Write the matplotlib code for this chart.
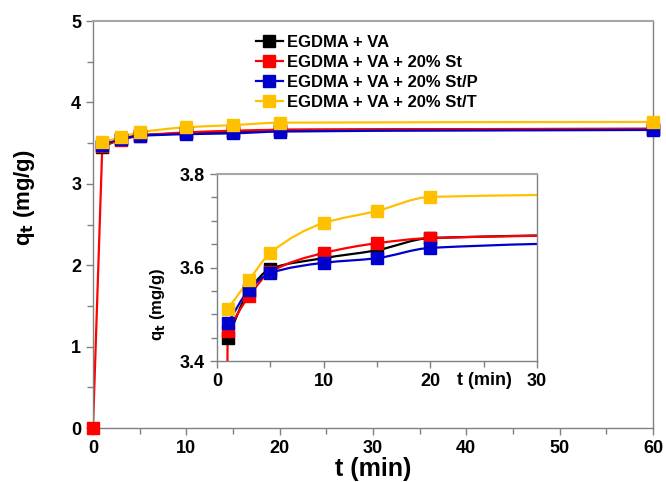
import numpy as np
import matplotlib
matplotlib.use("Agg")
import matplotlib.pyplot as plt
from matplotlib.path import Path
from matplotlib.patches import PathPatch
from matplotlib.lines import Line2D

plt.rcParams['font.family'] = ['Liberation Sans', 'DejaVu Sans']
plt.rcParams['font.weight'] = 'bold'

# data
t = [1, 3, 5, 10, 15, 20, 60]
t_st = [0, 1, 3, 5, 10, 15, 20, 60]   # only the St series starts at the origin
q_va = [3.450, 3.550, 3.597, 3.620, 3.637, 3.663, 3.675]
q_st = [0, 3.465, 3.539, 3.590, 3.631, 3.652, 3.663, 3.675]
q_stp = [3.481, 3.552, 3.588, 3.610, 3.620, 3.642, 3.662]
q_stt = [3.511, 3.573, 3.631, 3.695, 3.721, 3.751, 3.760]

labels = ["EGDMA + VA", "EGDMA + VA + 20% St", "EGDMA + VA + 20% St/P", "EGDMA + VA + 20% St/T"]
colors = ["#000000", "#FF0000", "#0000CC", "#FFC000"]
series = [(t, q_va), (t_st, q_st), (t, q_stp), (t, q_stt)]

GRAY = "#808080"


# smooth line through the points (monotone cubic); a jump from the origin is drawn straight
def smooth_path(x, y):
    x = np.asarray(x, float)
    y = np.asarray(y, float)
    verts = [(x[0], y[0])]
    codes = [Path.MOVETO]
    if x[0] == 0:
        verts.append((x[1], y[1]))
        codes.append(Path.LINETO)
        x, y = x[1:], y[1:]
    n = len(x)
    d = np.diff(y) / np.diff(x)
    m = np.zeros(n)
    m[0], m[-1] = d[0], d[-1]
    for i in range(1, n - 1):
        if d[i - 1] * d[i] <= 0:
            m[i] = 0
        else:
            w1 = 2 * (x[i + 1] - x[i]) + (x[i] - x[i - 1])
            w2 = (x[i + 1] - x[i]) + 2 * (x[i] - x[i - 1])
            m[i] = (w1 + w2) / (w1 / d[i - 1] + w2 / d[i])
    for i in range(n - 1):
        h = x[i + 1] - x[i]
        verts += [(x[i] + h / 3, y[i] + m[i] * h / 3),
                  (x[i + 1] - h / 3, y[i + 1] - m[i + 1] * h / 3),
                  (x[i + 1], y[i + 1])]
        codes += [Path.CURVE4] * 3
    return Path(verts, codes)


def draw(ax, ms, clip):
    for (xs, ys), c in zip(series, colors):
        ax.add_patch(PathPatch(smooth_path(xs, ys), facecolor='none', edgecolor=c, lw=1.6, zorder=2))
        ax.plot(xs, ys, ls='none', marker='s', ms=ms, color=c, zorder=3, clip_on=clip)


def style(ax):
    for s in ax.spines.values():
        s.set_color(GRAY)
        s.set_linewidth(1.0)
    ax.spines['top'].set_color("#A6A6A6")
    ax.spines['top'].set_linewidth(1.5)
    ax.tick_params(which='both', direction='out', color=GRAY, width=1.0)
    ax.tick_params(which='major', length=5)
    ax.tick_params(which='minor', length=4)
    ax.tick_params(top=False, right=False, labelsize=13)


fig = plt.figure(figsize=(6.66, 4.82), dpi=100)
ax = fig.add_axes([0.1396, 0.112, 0.8408, 0.8444])
draw(ax, 8, False)
ax.set_xlim(0, 60)
ax.set_ylim(0, 5)
ax.set_xticks(np.arange(0, 61, 10))
ax.set_xticks(np.arange(0, 61, 5), minor=True)
ax.set_yticks(np.arange(0, 6, 1))
ax.set_yticks(np.arange(0, 5.1, 0.5), minor=True)
style(ax)
ax.set_xlabel("t (min)", fontsize=18, fontweight='bold', labelpad=0)
ax.set_ylabel("q$_\\mathbf{t}$ (mg/g)", fontsize=16, fontweight='bold')
ax.yaxis.set_label_coords(-0.1, 0.567)

handles = [Line2D([], [], color=c, lw=1.6, marker='s', ms=8) for c in colors]
ax.legend(handles, labels, loc='upper left', bbox_to_anchor=(0.279, 0.982), frameon=False,
          handlelength=1.6, handletextpad=0.25, labelspacing=0.3,
          borderaxespad=0, prop={'weight': 'bold', 'size': 12})

# inset
ax2 = fig.add_axes([0.3258, 0.251, 0.4805, 0.388])
draw(ax2, 8, True)
ax2.set_xlim(0, 30)
ax2.set_ylim(3.4, 3.8)
ax2.set_xticks([0, 10, 20, 30])
ax2.set_xticks(np.arange(0, 31, 5), minor=True)
ax2.set_yticks([3.4, 3.6, 3.8])
ax2.set_yticks(np.arange(3.4, 3.81, 0.05), minor=True)
ax2.set_yticklabels(["3.4", "3.6", "3.8"])
style(ax2)
ax2.set_xlabel("t (min)", fontsize=13, fontweight='bold')
ax2.xaxis.set_label_coords(0.835, -0.06)
ax2.xaxis.label.set_va('top')
ax2.set_ylabel("q$_\\mathbf{t}$ (mg/g)", fontsize=12, fontweight='bold')
ax2.yaxis.set_label_coords(-0.155, 0.3)

fig.savefig("out.png", dpi=100)
